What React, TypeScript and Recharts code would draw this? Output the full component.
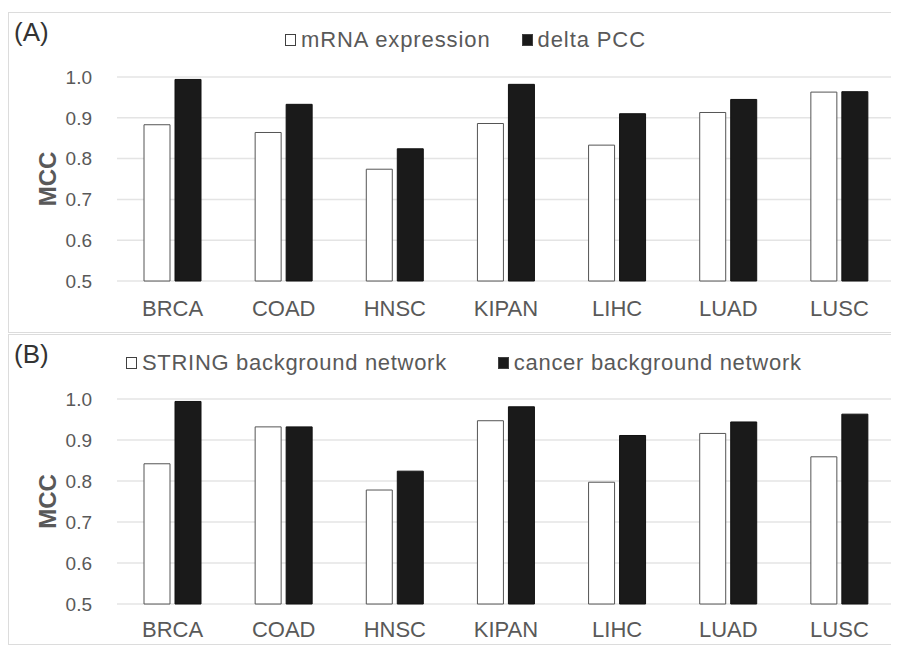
import React from 'react';
import { BarChart, Bar, XAxis, YAxis, CartesianGrid, Legend } from 'recharts';

const cancers = ['BRCA', 'COAD', 'HNSC', 'KIPAN', 'LIHC', 'LUAD', 'LUSC'];

// panel A
const mrnaExpression = [0.883, 0.864, 0.774, 0.886, 0.833, 0.913, 0.963];
const deltaPCC = [0.994, 0.933, 0.824, 0.982, 0.910, 0.945, 0.964];

// panel B
const stringNetwork = [0.842, 0.932, 0.778, 0.947, 0.797, 0.916, 0.859];
const cancerNetwork = [0.994, 0.932, 0.824, 0.981, 0.911, 0.944, 0.963];

const mccTicks = [0.5, 0.6, 0.7, 0.8, 0.9, 1.0];

const FONT = '"Liberation Sans", Arial, sans-serif';
const GRAY = '#595959';

const dataA = cancers.map((c, i) => ({ name: c, a: mrnaExpression[i], b: deltaPCC[i] }));
const dataB = cancers.map((c, i) => ({ name: c, a: stringNetwork[i], b: cancerNetwork[i] }));

function makeLegend(names: string[], gap: number, spacing: number) {
    return () => (
        <div style={{ display: 'flex', alignItems: 'center', fontFamily: FONT, fontSize: 22, color: GRAY, whiteSpace: 'nowrap', letterSpacing: spacing }}>
            {names.map((n, i) => (
                <div key={n} style={{ display: 'flex', alignItems: 'center', marginLeft: i === 0 ? 0 : gap }}>
                    <span style={{
                        display: 'inline-block', width: 11, height: 12, boxSizing: 'border-box',
                        border: '1px solid #404040', background: i === 0 ? '#fff' : '#1a1a1a', marginRight: 5
                    }} />
                    <span>{n}</span>
                </div>
            ))}
        </div>
    );
}

function Panel(props: { tag: string, data: any[], names: string[], height: number, bottom: number, tickGap: number, legendTop: number, legendLeft: number, legendGap: number, legendSpacing: number, marginTop: number }) {
    const { tag, data, names, height, bottom, tickGap, legendTop, legendLeft, legendGap, legendSpacing, marginTop } = props;
    return (
        <div style={{ position: 'relative', width: 890, height: height + 2, boxSizing: 'border-box', border: '1px solid #dcdcdc', marginTop }}>
            <div style={{ position: 'absolute', left: 5, top: 6, fontFamily: FONT, fontSize: 26, color: '#333', lineHeight: 1 }}>{tag}</div>
            <BarChart
                width={888}
                height={height}
                data={data}
                barSize={26}
                barGap={5}
                margin={{ top: 64, right: 2, left: 48, bottom: bottom }}
            >
                <CartesianGrid horizontal={true} vertical={false} stroke="#e4e4e4" strokeWidth={1.5} />
                <XAxis
                    dataKey="name"
                    axisLine={false}
                    tickLine={false}
                    tickSize={0}
                    tickMargin={tickGap}
                    height={30}
                    tick={{ fill: GRAY, fontSize: 22, fontFamily: FONT }}
                />
                <YAxis
                    domain={[0.5, 1.0]}
                    ticks={mccTicks}
                    width={60}
                    axisLine={false}
                    tickLine={false}
                    tickSize={0}
                    tickMargin={25}
                    tickFormatter={(v: number) => v.toFixed(1)}
                    tick={{ fill: GRAY, fontSize: 19, fontFamily: FONT }}
                    label={{
                        content: (p: any) => {
                            const vb = p.viewBox;
                            const cx = vb.x - 10;
                            const cy = vb.y + vb.height / 2;
                            return (
                                <text x={cx} y={cy} transform={`rotate(-90, ${cx}, ${cy})`} textAnchor="middle" dominantBaseline="central"
                                    fill={GRAY} fontSize={24} fontWeight="bold" fontFamily={FONT}>MCC</text>
                            );
                        }
                    }}
                />
                <Legend
                    verticalAlign="middle"
                    align="center"
                    layout="horizontal"
                    content={makeLegend(names, legendGap, legendSpacing)}
                    wrapperStyle={{ top: legendTop, left: legendLeft, width: 'auto' }}
                />
                <Bar dataKey="a" name={names[0]} fill="#ffffff" stroke="#555555" strokeWidth={1} isAnimationActive={false} />
                <Bar dataKey="b" name={names[1]} fill="#1a1a1a" stroke="#111111" strokeWidth={1} isAnimationActive={false} />
            </BarChart>
        </div>
    );
}

export default function App() {
    return (
        <div style={{ width: 891 }}>
            <Panel tag="(A)" data={dataA} names={['mRNA expression', 'delta PCC']} height={319} bottom={21} tickGap={19}
                legendTop={14} legendLeft={276} legendGap={31} legendSpacing={0.9} marginTop={4} />
            <Panel tag="(B)" data={dataB} names={['STRING background network', 'cancer background network']} height={309} bottom={10} tickGap={17}
                legendTop={15} legendLeft={117} legendGap={51} legendSpacing={0.7} marginTop={1} />
        </div>
    );
}
